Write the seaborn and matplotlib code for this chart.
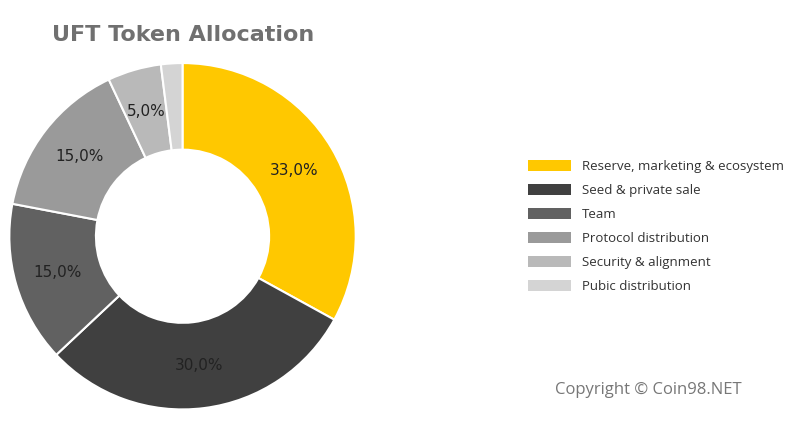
import matplotlib.pyplot as plt
import seaborn as sns
from matplotlib.patches import Patch

categories = ['Reserve, marketing & ecosystem', 'Seed & private sale', 'Team',
              'Protocol distribution', 'Security & alignment', 'Pubic distribution']
shares = [33, 30, 15, 15, 5, 2]
colors = ['#FFC800', '#404040', '#616161', '#9A9A9A', '#B9B9B9', '#D4D4D4']

sns.set_style('white')
plt.rcParams['font.family'] = ['Open Sans', 'DejaVu Sans']

fig = plt.figure(figsize=(8, 4.23), dpi=100)
ax = fig.add_axes([0.0094, 0.028, 0.4375, 0.827])

def fmt(p):
    return ('%.1f%%' % p).replace('.', ',') if p >= 4 else ''

wedges, _, autotexts = ax.pie(shares, colors=colors, startangle=90, counterclock=False,
                              autopct=fmt, pctdistance=0.75,
                              wedgeprops=dict(width=0.5, edgecolor='white', linewidth=1.5),
                              textprops=dict(fontsize=11, color='#222222', family='DejaVu Sans'))
ax.set_aspect('equal')
ax.set_xlim(-1.01, 1.01)
ax.set_ylim(-1.01, 1.01)

fig.text(0.229, 0.917, 'UFT Token Allocation', ha='center', va='center',
         fontsize=16, fontweight='bold', color='#707070', family='DejaVu Sans')

handles = [Patch(facecolor=c, edgecolor='none') for c in colors]
fig.legend(handles, categories, loc='center left', bbox_to_anchor=(0.645, 0.465),
           frameon=False, fontsize=9.5, labelcolor='#333333', handlelength=3.3,
           handleheight=1.0, labelspacing=0.8)

fig.text(0.81, 0.078, 'Copyright © Coin98.NET', ha='center', va='center',
         fontsize=12, color='#777777')

fig.savefig('out.png', dpi=100)
